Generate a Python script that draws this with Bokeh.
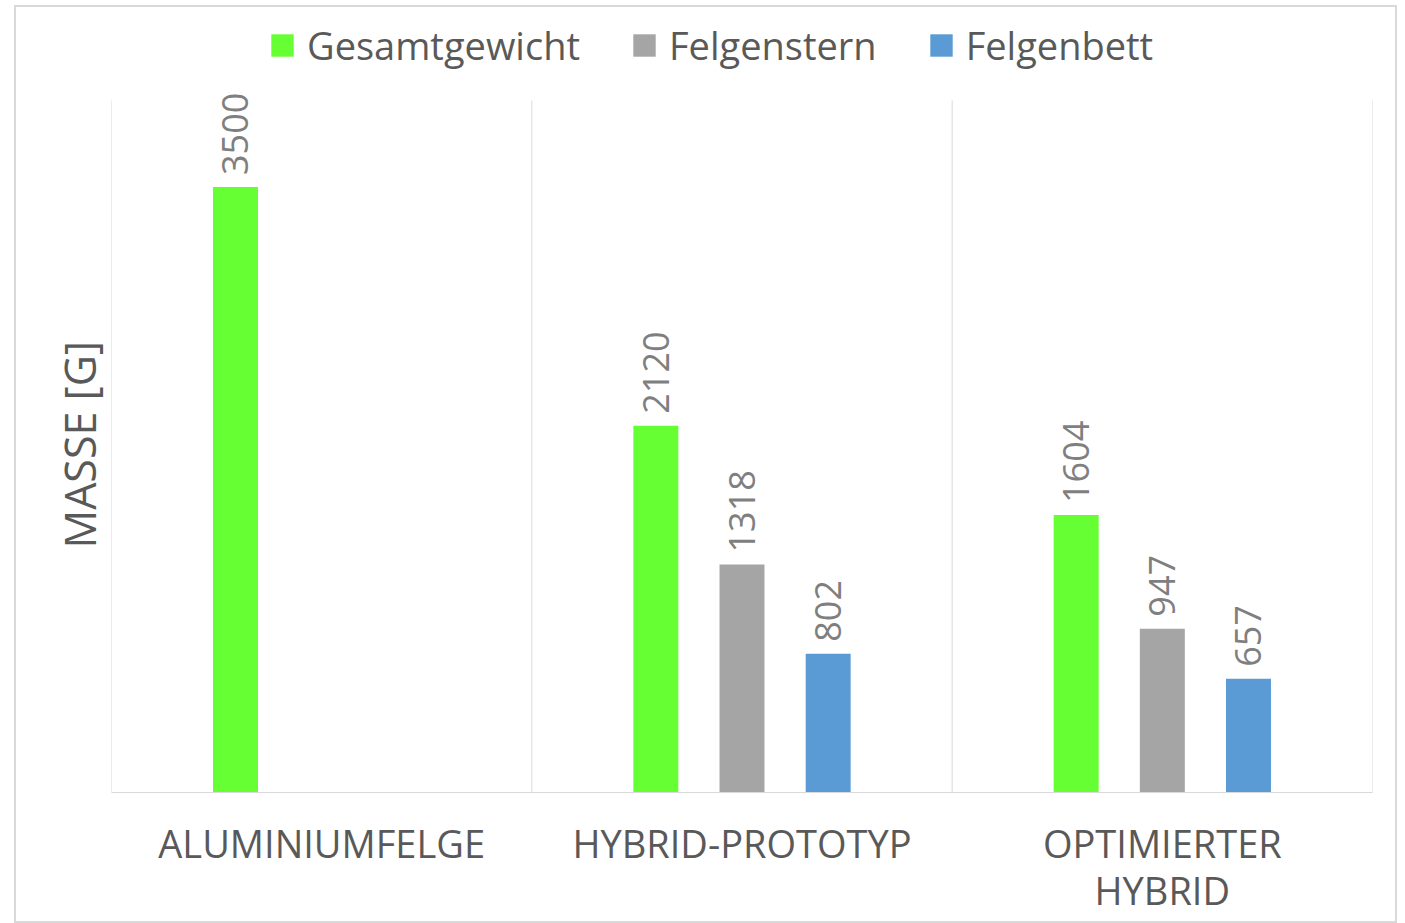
import numpy as np
from bokeh.plotting import figure
from bokeh.models import (ColumnDataSource, FixedTicker, Range1d, Legend, LegendItem,
                          LabelSet, Title)
from bokeh.transform import dodge
from bokeh.core.properties import value
from bokeh.embed import file_html
from bokeh.resources import INLINE

categories = ["ALUMINIUMFELGE", "HYBRID-PROTOTYP", "OPTIMIERTER\nHYBRID"]
series = ["Gesamtgewicht", "Felgenstern", "Felgenbett"]
gesamtgewicht = [3500, 2120, 1604]
felgenstern = [np.nan, 1318, 947]
felgenbett = [np.nan, 802, 657]
colors = ["#66FF33", "#A5A5A5", "#5B9BD5"]
y_max = 4000

FONT = "Open Sans"
TXT = "#595959"
GRID = "#D9D9D9"

ncat = len(categories)
xpos = [i + 0.5 for i in range(ncat)]

src = ColumnDataSource(dict(
    x=xpos,
    g=gesamtgewicht,
    s=felgenstern,
    b=felgenbett,
    gl=[str(v) for v in gesamtgewicht],
    sl=["" if np.isnan(v) else str(int(v)) for v in felgenstern],
    bl=["" if np.isnan(v) else str(int(v)) for v in felgenbett],
))

# frame extends above the value axis maximum to hold the legend
p = figure(width=1383, height=918, x_range=Range1d(0, ncat),
           y_range=Range1d(0, y_max * 777 / 692),
           output_backend="svg", toolbar_location=None,
           min_border_left=95, min_border_right=27, min_border_top=8, min_border_bottom=133)
p.styles = {"border": "2px solid #D9D9D9", "margin-left": "14px", "margin-top": "5px"}
p.outline_line_color = None
p.background_fill_color = "white"
p.border_fill_color = "white"
p.xgrid.grid_line_color = None
p.ygrid.grid_line_color = None

# category separators (vertical gridlines) from 0 to the axis maximum
bounds = list(range(ncat + 1))
p.segment(x0=bounds, x1=bounds, y0=[0] * len(bounds), y1=[y_max] * len(bounds),
          line_color=GRID, line_width=1)

offsets = [-0.205, 0.0, 0.205]
fields = ["g", "s", "b"]
labels = ["gl", "sl", "bl"]
renderers = []
for f, lab, off, c in zip(fields, labels, offsets, colors):
    r = p.vbar(x=dodge("x", off, range=p.x_range), top=f, width=0.107, bottom=0,
               source=src, fill_color=c, line_color=None)
    renderers.append(r)
    ls = LabelSet(x=dodge("x", off, range=p.x_range), y=f, text=lab, source=src,
                  angle=np.pi / 2, text_align="left", text_baseline="middle",
                  y_offset=12, text_font=value(FONT), text_font_size="36px",
                  text_color="#7F7F7F")
    p.add_layout(ls)

# x axis
p.xaxis.ticker = FixedTicker(ticks=xpos)
p.xaxis.major_label_overrides = {x: c for x, c in zip(xpos, categories)}
p.xaxis.major_label_text_font = FONT
p.xaxis.major_label_text_font_size = "38px"
p.xaxis.major_label_text_color = TXT
p.xaxis.major_label_text_line_height = 0.92
p.xaxis.major_tick_line_color = None
p.xaxis.minor_tick_line_color = None
p.xaxis.axis_line_color = GRID
p.xaxis.major_label_standoff = 18

# y axis: hidden, title placed as a left-side title
p.yaxis.visible = False
ytitle = Title(text="MASSE [G]", align="left", offset=244,
               text_font=FONT, text_font_size="43px", text_font_style="normal",
               text_color=TXT, standoff=6)
p.add_layout(ytitle, "left")

legend = Legend(items=[LegendItem(label=s, renderers=[r]) for s, r in zip(series, renderers)],
                orientation="horizontal", location=(157, 721),
                label_text_font=FONT, label_text_font_size="38px", label_text_color=TXT,
                glyph_width=28, glyph_height=28, label_standoff=11, spacing=50,
                border_line_color=None, background_fill_alpha=0, padding=0,
                margin=0)
p.add_layout(legend)

open("out.html", "w").write(file_html(p, INLINE))
